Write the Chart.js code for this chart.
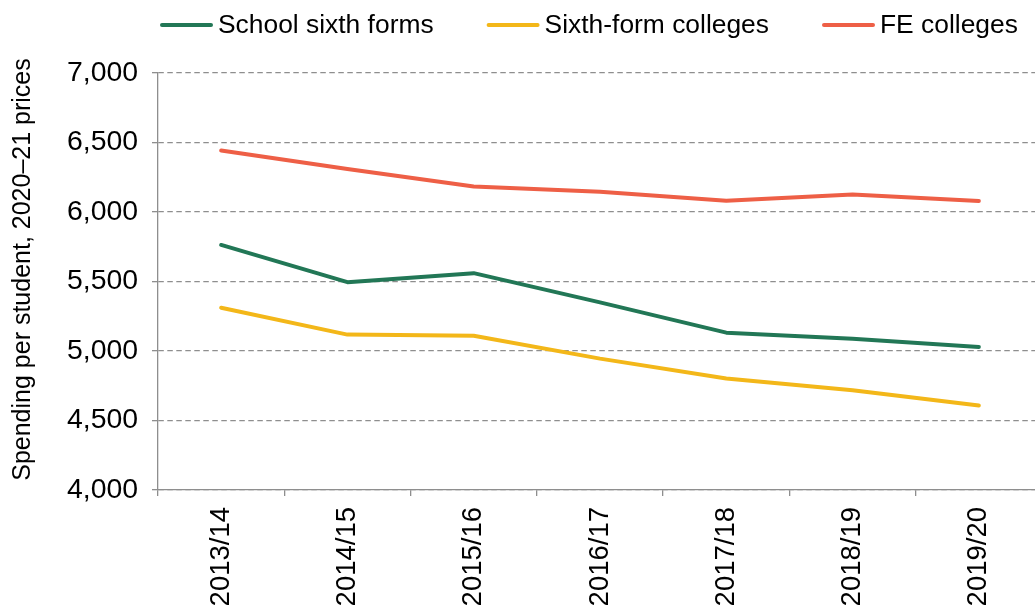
<!DOCTYPE html>
<html>
<head>
<meta charset="utf-8">
<script src="https://cdn.jsdelivr.net/npm/chart.js@4.4.1/dist/chart.umd.min.js"></script>
<style>
html,body{margin:0;padding:0;overflow:hidden;background:#ffffff;}
#wrap{width:1042px;height:605px;position:relative;}
</style>
</head>
<body>
<div id="wrap"><canvas id="c"></canvas></div>
<script>
const categories = ['2013/14','2014/15','2015/16','2016/17','2017/18','2018/19','2019/20'];
const schoolSixthForms = [5763, 5495, 5560, 5350, 5132, 5089, 5029];
const sixthFormColleges = [5311, 5118, 5110, 4945, 4802, 4718, 4608];
const feColleges = [6443, 6309, 6184, 6145, 6081, 6126, 6079];
const seriesNames = ['School sixth forms','Sixth-form colleges','FE colleges'];
const yTicks = [4000, 4500, 5000, 5500, 6000, 6500, 7000];
const yTitle = 'Spending per student, 2020\u201321 prices';

const FONT = "'Liberation Sans', Arial, Helvetica, sans-serif";
const GREEN = '#227756', YELLOW = '#F3B719', RED = '#EE5F46';
const GRID = '#8e8e8e';

const legendPlugin = {
  id: 'lineLegend',
  afterDraw(chart) {
    const ctx = chart.ctx;
    ctx.save();
    ctx.font = '26.4px ' + FONT;
    ctx.textBaseline = 'middle';
    ctx.textAlign = 'left';
    const lineLen = 53, gapText = 5, gapItem = 53, y = 25;
    let x = chart.chartArea.left + 2;
    chart.data.datasets.forEach(ds => {
      ctx.strokeStyle = ds.borderColor;
      ctx.lineWidth = 4;
      ctx.lineCap = 'round';
      ctx.beginPath();
      ctx.moveTo(x + 2, y);
      ctx.lineTo(x + lineLen - 2, y);
      ctx.stroke();
      ctx.fillStyle = '#000';
      ctx.fillText(ds.label, x + lineLen + gapText, y + 1);
      x += lineLen + gapText + ctx.measureText(ds.label).width + gapItem;
    });
    ctx.restore();
  }
};

const yTitlePlugin = {
  id: 'yTitle',
  afterDraw(chart) {
    const ctx = chart.ctx;
    ctx.save();
    ctx.font = '25px ' + FONT;
    ctx.fillStyle = '#000';
    ctx.textAlign = 'center';
    ctx.textBaseline = 'middle';
    ctx.translate(23, (chart.chartArea.top + chart.chartArea.bottom) / 2 - 12);
    ctx.rotate(-Math.PI / 2);
    ctx.fillText(yTitle, 0, 0);
    ctx.restore();
  }
};

Chart.defaults.font.family = FONT;
Chart.defaults.color = '#000';

new Chart(document.getElementById('c'), {
  type: 'line',
  data: {
    labels: categories,
    datasets: [
      {label: seriesNames[0], data: schoolSixthForms, borderColor: GREEN, backgroundColor: GREEN},
      {label: seriesNames[1], data: sixthFormColleges, borderColor: YELLOW, backgroundColor: YELLOW},
      {label: seriesNames[2], data: feColleges, borderColor: RED, backgroundColor: RED}
    ]
  },
  options: {
    responsive: true,
    maintainAspectRatio: false,
    animation: false,
    devicePixelRatio: 1,
    elements: {
      line: {borderWidth: 4, tension: 0, borderJoinStyle: 'round', borderCapStyle: 'round'},
      point: {radius: 0, hoverRadius: 0}
    },
    layout: {padding: {left: 51, right: 0, top: 73, bottom: 0}},
    plugins: {
      legend: {display: false},
      tooltip: {enabled: false}
    },
    scales: {
      x: {
        offset: true,
        afterFit: s => { s.height = 115; },
        grid: {drawOnChartArea: false, offset: true, tickLength: 6, color: GRID, lineWidth: 1.3},
        border: {display: true, color: GRID, width: 1.3},
        ticks: {minRotation: 90, maxRotation: 90, autoSkip: false, padding: 11, font: {size: 27.5}}
      },
      y: {
        min: 4000,
        max: 7000,
        afterBuildTicks: axis => { axis.ticks = yTicks.map(v => ({value: v})); },
        afterFit: s => { s.width = 107; },
        ticks: {padding: 14, font: {size: 28.4}, callback: v => Number(v).toLocaleString('en-GB')},
        grid: {color: GRID, lineWidth: 1.3, tickLength: 6, tickBorderDash: []},
        border: {display: true, color: GRID, width: 1.3, dash: [5.5, 3.5]},
        title: {display: false}
      }
    }
  },
  plugins: [legendPlugin, yTitlePlugin]
});
</script>
</body>
</html>
